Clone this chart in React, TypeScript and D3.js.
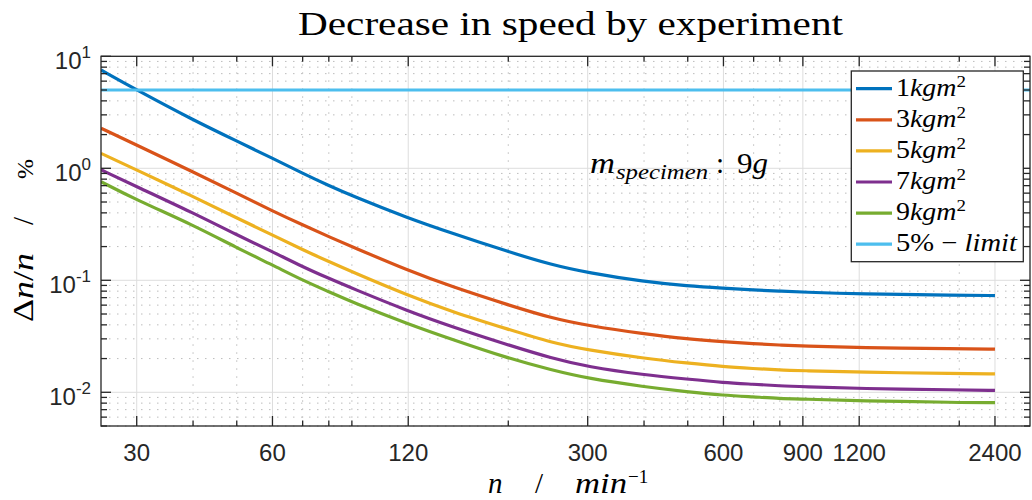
import React, { Component } from "react";
import * as d3 from "d3";

const speeds = [25, 30, 40, 50, 60, 70, 80, 90, 120, 150, 200, 250, 300, 400, 500, 600, 700, 800, 900, 1200, 2000, 2400];

// decrease in speed dn/n in % for each moment of inertia
const drop1kgm2 = [7.55, 5.0, 2.7, 1.75, 1.23, 0.9, 0.7, 0.568, 0.358, 0.263, 0.18, 0.137, 0.117, 0.097, 0.089, 0.085, 0.082, 0.08, 0.0785, 0.0755, 0.0735, 0.0731];
const drop3kgm2 = [2.28, 1.61, 0.93, 0.598, 0.416, 0.312, 0.245, 0.2, 0.122, 0.0877, 0.0602, 0.0458, 0.0394, 0.0332, 0.0299, 0.0283, 0.0272, 0.0264, 0.0259, 0.025, 0.0245, 0.0243];
const drop5kgm2 = [1.36, 0.966, 0.56, 0.36, 0.254, 0.187, 0.147, 0.119, 0.073, 0.0525, 0.0365, 0.0277, 0.0239, 0.0201, 0.0182, 0.0169, 0.0163, 0.0158, 0.0156, 0.0151, 0.0147, 0.0146];
const drop7kgm2 = [0.97, 0.685, 0.4, 0.254, 0.18, 0.132, 0.104, 0.085, 0.053, 0.0385, 0.0264, 0.0201, 0.0169, 0.0143, 0.0131, 0.0122, 0.0118, 0.0114, 0.0112, 0.0108, 0.0105, 0.0104];
const drop9kgm2 = [0.76, 0.521, 0.312, 0.195, 0.137, 0.1, 0.079, 0.064, 0.0407, 0.0297, 0.0201, 0.0158, 0.0133, 0.0112, 0.0101, 0.0094, 0.0091, 0.0088, 0.0087, 0.0084, 0.0081, 0.0081];

const limitPercent = 5;
const inertias = [1, 3, 5, 7, 9];

const xTicks = [30, 60, 120, 300, 600, 900, 1200, 2400];
const xMinorTicks = [40, 50, 70, 80, 90, 200, 400, 500, 700, 800, 2000];
const yDecades = [-2, -1, 0, 1];

class SpeedDropChart extends Component {
  componentDidMount() {
    this.drawChart();
  }

  /** Style variables (MATLAB defaults). */
  colors = ["#0072BD", "#D95319", "#EDB120", "#7E2F8E", "#77AC30"];
  limitColor = "#4DBEEE";
  axisColor = "#262626";
  serif = "'Liberation Serif', 'Times New Roman', serif";
  sans = "'Liberation Sans', Arial, Helvetica, sans-serif";

  drawChart() {
    const svg = d3.select("#speed-chart");
    svg.selectAll("*").remove();

    const left = 101,
      right = 1030,
      top = 56.3,
      bottom = 426;

    const x = d3.scaleLog().domain([25, 2870]).range([left, right]);
    const y = d3.scaleLog().domain([0.005, 10]).range([bottom, top]);

    svg.append("rect").attr("width", 1032).attr("height", 500).attr("fill", "#fff");

    // minor y values 2..9 per decade
    const yMinor: number[] = [];
    for (let e = -3; e <= 0; e++) {
      for (let k = 2; k <= 9; k++) {
        const v = k * Math.pow(10, e);
        if (v >= 0.005 && v < 10) yMinor.push(+v.toPrecision(3));
      }
    }
    const yMajor = yDecades.map((e) => Math.pow(10, e));

    // grid
    const grid = svg.append("g");
    grid
      .selectAll(".ygm")
      .data(yMinor)
      .join("line")
      .attr("x1", left)
      .attr("x2", right)
      .attr("y1", (d) => y(d))
      .attr("y2", (d) => y(d))
      .attr("stroke", "#bcbcbc")
      .attr("stroke-dasharray", "1.5,6.5");
    grid
      .selectAll(".xgm")
      .data(xMinorTicks)
      .join("line")
      .attr("x1", (d) => x(d))
      .attr("x2", (d) => x(d))
      .attr("y1", top)
      .attr("y2", bottom)
      .attr("stroke", "#bcbcbc")
      .attr("stroke-dasharray", "1.5,6.5");
    grid
      .selectAll(".yg")
      .data(yMajor.slice(0, 3))
      .join("line")
      .attr("x1", left)
      .attr("x2", right)
      .attr("y1", (d) => y(d))
      .attr("y2", (d) => y(d))
      .attr("stroke", "#dddddd");
    grid
      .selectAll(".xg")
      .data(xTicks)
      .join("line")
      .attr("x1", (d) => x(d))
      .attr("x2", (d) => x(d))
      .attr("y1", top)
      .attr("y2", bottom)
      .attr("stroke", "#dddddd");

    // curves
    svg
      .append("clipPath")
      .attr("id", "plot-clip")
      .append("rect")
      .attr("x", left)
      .attr("y", top)
      .attr("width", right - left)
      .attr("height", bottom - top);

    const line = d3
      .line<number>()
      .x((d, i) => x(speeds[i]))
      .y((d) => y(d))
      .curve(d3.curveBasis);

    const series = [drop1kgm2, drop3kgm2, drop5kgm2, drop7kgm2, drop9kgm2];
    const plot = svg.append("g").attr("clip-path", "url(#plot-clip)");
    plot
      .selectAll(".curve")
      .data(series)
      .join("path")
      .attr("d", (d) => line(d))
      .attr("fill", "none")
      .attr("stroke", (d, i) => this.colors[i])
      .attr("stroke-width", 3.2)
      .attr("stroke-linejoin", "round");

    const xDomain = x.domain();
    plot
      .append("line")
      .attr("x1", x(xDomain[0]))
      .attr("x2", x(xDomain[1]))
      .attr("y1", y(limitPercent))
      .attr("y2", y(limitPercent))
      .attr("stroke", this.limitColor)
      .attr("stroke-width", 3.2);

    // box and ticks
    const axes = svg.append("g").attr("stroke", this.axisColor);
    axes
      .append("rect")
      .attr("x", left)
      .attr("y", top)
      .attr("width", right - left)
      .attr("height", bottom - top)
      .attr("fill", "none")
      .attr("stroke-width", 1.3);

    const xTickLines = (vals: number[], len: number) => {
      vals.forEach((v) => {
        axes.append("line").attr("x1", x(v)).attr("x2", x(v)).attr("y1", bottom).attr("y2", bottom - len);
        axes.append("line").attr("x1", x(v)).attr("x2", x(v)).attr("y1", top).attr("y2", top + len);
      });
    };
    const yTickLines = (vals: number[], len: number) => {
      vals.forEach((v) => {
        axes.append("line").attr("x1", left).attr("x2", left + len).attr("y1", y(v)).attr("y2", y(v));
        axes.append("line").attr("x1", right).attr("x2", right - len).attr("y1", y(v)).attr("y2", y(v));
      });
    };
    xTickLines(xTicks, 10);
    xTickLines(xMinorTicks, 5.5);
    yTickLines(yMajor, 10);
    yTickLines(yMinor, 6);
    axes.selectAll("line").attr("stroke-width", 1.3);

    // tick labels
    svg
      .append("g")
      .selectAll("text")
      .data(xTicks)
      .join("text")
      .attr("x", (d) => x(d))
      .attr("y", 461)
      .attr("text-anchor", "middle")
      .attr("font-family", this.sans)
      .attr("font-size", 24)
      .attr("fill", this.axisColor)
      .text((d) => String(d));

    const yLabels = svg
      .append("g")
      .selectAll("text")
      .data(yDecades)
      .join("text")
      .attr("x", 91)
      .attr("y", (d) => y(Math.pow(10, d)) + 13)
      .attr("text-anchor", "end")
      .attr("font-family", this.sans)
      .attr("font-size", 24)
      .attr("fill", this.axisColor);
    yLabels.append("tspan").text("10");
    yLabels
      .append("tspan")
      .attr("dy", -11)
      .attr("font-size", 17)
      .text((d) => String(d));

    // title
    svg
      .append("text")
      .attr("x", 298)
      .attr("y", 35)
      .attr("font-family", this.serif)
      .attr("font-size", 34)
      .attr("textLength", 545)
      .attr("lengthAdjust", "spacingAndGlyphs")
      .attr("fill", "#000")
      .text("Decrease in speed by experiment");

    // x axis label: n / min^-1
    const xl = svg.append("g").attr("font-family", this.serif).attr("font-size", 29).attr("fill", "#000");
    xl.append("text").attr("x", 488).attr("y", 493).attr("font-style", "italic").text("n");
    xl.append("text").attr("x", 535).attr("y", 493).text("/");
    xl.append("text")
      .attr("x", 575)
      .attr("y", 493)
      .attr("font-style", "italic")
      .attr("textLength", 52)
      .attr("lengthAdjust", "spacingAndGlyphs")
      .text("min");
    xl.append("text").attr("x", 628).attr("y", 483).attr("font-size", 19).text("\u22121");

    // y axis label: dn/n / %
    const yl = svg
      .append("g")
      .attr("transform", "translate(33,0) rotate(-90)")
      .attr("font-family", this.serif)
      .attr("font-size", 29)
      .attr("fill", "#000");
    const dn = yl.append("text").attr("x", -322).attr("y", 0).attr("textLength", 69).attr("lengthAdjust", "spacingAndGlyphs");
    dn.append("tspan").text("\u0394");
    dn.append("tspan").attr("font-style", "italic").text("n");
    dn.append("tspan").text("/");
    dn.append("tspan").attr("font-style", "italic").text("n");
    yl.append("text").attr("x", -225).attr("y", 0).text("/");
    yl.append("text").attr("x", -179).attr("y", 0).attr("font-size", 24).text("%");

    // annotation m_specimen : 9g
    const ann = svg.append("g").attr("font-family", this.serif).attr("fill", "#000");
    ann.append("text")
      .attr("x", 590)
      .attr("y", 173)
      .attr("font-size", 29)
      .attr("font-style", "italic")
      .attr("textLength", 25)
      .attr("lengthAdjust", "spacingAndGlyphs")
      .text("m");
    ann.append("text")
      .attr("x", 616)
      .attr("y", 179)
      .attr("font-size", 21)
      .attr("font-style", "italic")
      .attr("textLength", 92)
      .attr("lengthAdjust", "spacingAndGlyphs")
      .text("specimen");
    ann.append("text").attr("x", 716).attr("y", 173).attr("font-size", 29).text(":");
    const nine = ann.append("text")
      .attr("x", 737)
      .attr("y", 173)
      .attr("font-size", 29)
      .attr("textLength", 31)
      .attr("lengthAdjust", "spacingAndGlyphs");
    nine.append("tspan").text("9");
    nine.append("tspan").attr("font-style", "italic").text("g");

    // legend
    const legend = svg.append("g");
    legend
      .append("rect")
      .attr("x", 851.3)
      .attr("y", 71)
      .attr("width", 172)
      .attr("height", 190.7)
      .attr("fill", "#fff")
      .attr("stroke", this.axisColor)
      .attr("stroke-width", 1.3);

    const entries = inertias.map((m, i) => ({ label: String(m), color: this.colors[i], limit: false }));
    entries.push({ label: String(limitPercent), color: this.limitColor, limit: true });

    entries.forEach((entry, i) => {
      const ly = 88.7 + i * 31.1;
      legend
        .append("line")
        .attr("x1", 856)
        .attr("x2", 892)
        .attr("y1", ly)
        .attr("y2", ly)
        .attr("stroke", entry.color)
        .attr("stroke-width", 3.2);
      const t = legend
        .append("text")
        .attr("x", 896)
        .attr("y", ly + 7)
        .attr("font-family", this.serif)
        .attr("font-size", 25)
        .attr("fill", "#000")
        .attr("lengthAdjust", "spacingAndGlyphs");
      if (!entry.limit) {
        t.attr("textLength", 70);
        t.append("tspan").text(entry.label);
        t.append("tspan").attr("font-style", "italic").text("kgm");
        t.append("tspan").attr("dy", -9).attr("font-size", 17).text("2");
      } else {
        t.attr("textLength", 121);
        t.append("tspan").text(entry.label + "% \u2212 ");
        t.append("tspan").attr("font-style", "italic").text("limit");
      }
    });
  }

  render() {
    return (
      <svg
        id="speed-chart"
        width={1032}
        height={500}
        style={{ position: "absolute", left: 0, top: 0, display: "block" }}
      ></svg>
    );
  }
}

export default function App() {
  return <SpeedDropChart />;
}
